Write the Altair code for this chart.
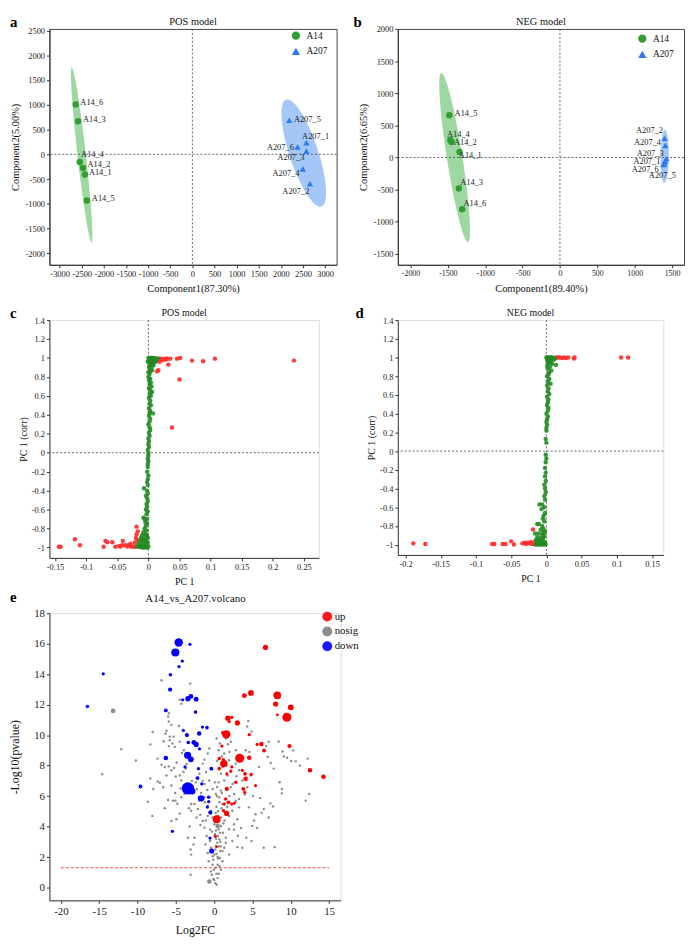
import altair as alt
import pandas as pd
import numpy as np

FONT = "Liberation Serif"
GREEN = "#2e9e2e"
BLUE = "#2b7bf0"
RED_L = "#ff3030"
GREEN_L = "#238b23"

# ---------------- panel a (POS PCA) ----------------
a_names = ["A14_1", "A14_2", "A14_3", "A14_4", "A14_5", "A14_6",
           "A207_1", "A207_2", "A207_3", "A207_4", "A207_5", "A207_6"]
a_group = ["A14", "A14", "A14", "A14", "A14", "A14",
           "A207", "A207", "A207", "A207", "A207", "A207"]
a_x = [-2428, -2473, -2584, -2547, -2384, -2636, 2577, 2658, 2577, 2495, 2190, 2376]
a_y = [-407, -274, 668, -155, -931, 1007, 235, -593, 64, -294, 686, 149]
a_lab_x = [-2339, -2369, -2473, -2517, -2272, -2532, 2480, 2643, 2532, 2421, 2294, 2294]
a_lab_y = [-367, -194, 708, 5, -891, 1053, 376, -739, -49, -387, 721, 137]
a_right = ["A207_2", "A207_3", "A207_4", "A207_6"]
a_ell_group = ["A14", "A207"]
a_ell_cx = [-2502, 2517]
a_ell_cy = [-15, 25]
a_ell_ux = [-223, -371]
a_ell_uy = [1765, 1082]
a_ell_w = [95, 340]
a_xticks = [-3000, -2500, -2000, -1500, -1000, -500, 0, 500, 1000, 1500, 2000, 2500, 3000]
a_yticks = [-2000, -1500, -1000, -500, 0, 500, 1000, 1500, 2000, 2500]

# ---------------- panel b (NEG PCA) ----------------
b_names = a_names
b_group = a_group
b_x = [-1344, -1450, -1353, -1468, -1481, -1309, 1405, 1400, 1425, 1410, 1395, 1385]
b_y = [85, 240, -481, 271, 657, -805, -60, 300, -20, 185, -90, -110]
b_lab_x = [-1353, -1419, -1335, -1512, -1410, -1291, 1344, 1379, 1388, 1353, 1551, 1322]
b_lab_y = [34, 240, -383, 363, 698, -707, -48, 430, 70, 235, -270, -177]
b_right = ["A207_1", "A207_2", "A207_3", "A207_4", "A207_5", "A207_6"]
b_ell_group = ["A14", "A207"]
b_ell_cx = [-1410, 1401]
b_ell_cy = [0, 18]
b_ell_ux = [-177, 5]
b_ell_uy = [1315, 412]
b_ell_w = [105, 55]
b_xticks = [-2000, -1500, -1000, -500, 0, 500, 1000, 1500]
b_yticks = [-1500, -1000, -500, 0, 500, 1000, 1500, 2000]

# ---------------- panel c (POS loadings) ----------------
c_red_x = [0.234, 0.107, 0.088, 0.070, 0.051, 0.046, 0.035, 0.032, 0.050, 0.038, 0.014, 0.016,
           0.017, 0.020, 0.023, 0.026, 0.029, 0.022, 0.018, 0.013, 0.011, 0.027, 0.031, 0.015,
           -0.144, -0.141, -0.118, -0.110, -0.072, -0.069, -0.066, -0.058, -0.053, -0.047, -0.041,
           -0.042, -0.037, -0.032, -0.028, -0.029, -0.025, -0.021, -0.019, -0.019, -0.020, -0.018,
           -0.022, -0.017, -0.034, -0.045]
c_red_y = [0.972, 0.993, 0.965, 0.972, 1.0, 0.993, 0.993, 0.93, 0.774, 0.266, 0.86, 0.87,
           0.993, 0.993, 0.99, 0.99, 0.995, 0.975, 0.96, 0.97, 0.995, 0.98, 0.99, 0.98,
           -0.993, -0.993, -0.913, -0.976, -0.993, -0.930, -0.944, -0.944, -0.993, -0.983, -0.930,
           -0.976, -0.976, -0.976, -0.99, -0.96, -0.993, -0.993, -0.78, -0.86, -0.90, -0.92,
           -0.95, -0.83, -0.99, -0.99]
c_green_x = [0.000, 0.002, 0.004, 0.006, 0.008, 0.010, 0.012, 0.003, 0.005, 0.007, 0.009, 0.001,
             0.004, 0.006, 0.002, 0.005, 0.003, 0.008, 0.001, 0.004, 0.002, 0.006, 0.003, 0.000,
             0.012, 0.011, 0.009, 0.013, -0.001, 0.015,
             0.002, 0.000, 0.003, 0.001, 0.004, 0.002, 0.005, 0.001, 0.003, 0.006, 0.002, 0.004,
             0.001, 0.003, 0.002, 0.004, 0.001, 0.003, 0.0075, 0.002, 0.001, 0.003, 0.002, 0.000,
             0.002, 0.003, 0.001, 0.002, 0.000, 0.001, 0.000, 0.001, -0.001, 0.000, 0.000, -0.001,
             0.000, -0.001, -0.001, -0.002, 0.000, -0.001, -0.002, -0.001, -0.007, -0.002, -0.001,
             -0.004, -0.002, -0.001, -0.003, -0.002, -0.004, -0.001, -0.003, -0.008, -0.006, -0.002,
             -0.005, -0.002, -0.004,
             -0.006, -0.003, -0.008, -0.004, -0.010, -0.002, -0.012, -0.007, -0.003, -0.014, -0.009,
             -0.005, -0.001, -0.016, -0.012, -0.008, -0.004, -0.018, -0.014, -0.010, -0.006, -0.002,
             0.000, -0.001, -0.011, -0.015, -0.007, -0.003, -0.005, -0.009]
c_green_y = [1.0, 1.0, 1.0, 1.0, 1.0, 0.995, 0.99, 0.99, 0.985, 0.98, 0.975, 0.975,
             0.965, 0.955, 0.95, 0.94, 0.93, 0.92, 0.91, 0.90, 0.885, 0.87, 0.86, 0.85,
             0.97, 0.96, 0.95, 0.985, 0.96, 0.995,
             0.83, 0.80, 0.78, 0.76, 0.74, 0.72, 0.70, 0.68, 0.66, 0.64, 0.62, 0.60,
             0.58, 0.55, 0.52, 0.50, 0.47, 0.44, 0.415, 0.42, 0.39, 0.36, 0.33, 0.30,
             0.27, 0.24, 0.21, 0.18, 0.15, 0.12, 0.09, 0.06, 0.03, 0.0, -0.03, -0.06,
             -0.09, -0.12, -0.15, -0.20, -0.24, -0.28, -0.31, -0.34, -0.375, -0.40, -0.43,
             -0.455, -0.48, -0.51, -0.54, -0.57, -0.60, -0.62, -0.65, -0.685, -0.70, -0.70,
             -0.73, -0.75, -0.77,
             -0.80, -0.82, -0.84, -0.86, -0.87, -0.88, -0.90, -0.91, -0.92, -0.93, -0.94,
             -0.95, -0.95, -0.96, -0.97, -0.975, -0.98, -0.99, -0.995, -1.0, -1.0, -1.0,
             -0.99, -0.90, -0.99, -0.985, -0.99, -0.995, -0.87, -0.92]
c_xticks = [-0.15, -0.1, -0.05, 0, 0.05, 0.1, 0.15, 0.2, 0.25]
c_yticks = [-1, -0.8, -0.6, -0.4, -0.2, 0, 0.2, 0.4, 0.6, 0.8, 1, 1.2, 1.4]

# ---------------- panel d (NEG loadings) ----------------
d_red_x = [-0.189, -0.172, -0.077, -0.074, -0.062, -0.058, -0.050, -0.046, -0.034, -0.031, -0.027,
           -0.024, -0.019, -0.021, -0.018, -0.016, -0.029, -0.022,
           0.106, 0.116, 0.040, 0.039, 0.031, 0.025, 0.019, 0.0165, 0.022, 0.028, 0.014]
d_red_y = [-0.986, -0.993, -0.993, -0.993, -0.993, -0.993, -0.965, -0.999, -0.986, -0.98, -0.98,
           -0.986, -0.838, -0.993, -0.993, -0.97, -0.993, -0.97,
           1.0, 1.0, 1.0, 0.99, 1.0, 1.0, 1.0, 1.0, 0.995, 0.995, 1.0]
d_green_x = [0.000, 0.002, 0.004, 0.006, 0.008, 0.010, 0.012, 0.003, 0.005, 0.007, 0.001, 0.004,
             0.006, 0.002, 0.0137, 0.003, 0.008, 0.001, 0.005, 0.002, 0.007, 0.004, 0.010, 0.011,
             0.003, 0.001, 0.004, 0.002, 0.006, 0.001, 0.003, 0.002, 0.004, 0.001, 0.003, 0.002,
             0.001, 0.003, 0.002, 0.000, 0.002, 0.001, 0.000, 0.001, 0.000, 0.000, -0.001, 0.000,
             -0.001, 0.000, -0.001, -0.002, -0.001, -0.002, -0.001, -0.003, -0.002, -0.001, -0.003,
             -0.002, -0.0099, -0.006, -0.007, -0.003, -0.002, -0.004, -0.005, -0.003, -0.0108,
             -0.013, -0.006, -0.004, -0.002,
             -0.008, -0.004, -0.011, -0.006, -0.016, -0.003, -0.013, -0.009, -0.005, -0.015, -0.011,
             -0.007, -0.002, -0.014, -0.010, -0.006, -0.003, -0.015, -0.012, -0.008, -0.004, -0.001,
             -0.013, -0.009, -0.005]
d_green_y = [1.0, 1.0, 1.0, 1.0, 1.0, 0.995, 0.99, 0.99, 0.985, 0.98, 0.975, 0.965,
             0.955, 0.95, 0.92, 0.94, 0.93, 0.91, 0.90, 0.88, 0.86, 0.84, 0.975, 0.985,
             0.82, 0.80, 0.77, 0.74, 0.72, 0.70, 0.67, 0.64, 0.61, 0.58, 0.55, 0.52,
             0.49, 0.46, 0.43, 0.40, 0.37, 0.34, 0.31, 0.28, 0.25, 0.22, 0.13, 0.09,
             -0.04, -0.08, -0.12, -0.18, -0.23, -0.27, -0.32, -0.36, -0.40, -0.44, -0.48,
             -0.52, -0.57, -0.57, -0.62, -0.60, -0.66, -0.69, -0.72, -0.75, -0.78,
             -0.78, -0.80, -0.83, -0.86,
             -0.84, -0.87, -0.88, -0.89, -0.88, -0.91, -0.92, -0.93, -0.94, -0.95, -0.96,
             -0.96, -0.97, -0.98, -0.985, -0.99, -0.99, -1.0, -1.0, -1.0, -1.0, -0.995,
             -0.97, -0.99, -0.92]
d_xticks = [-0.2, -0.15, -0.1, -0.05, 0, 0.05, 0.1, 0.15]

# ---------------- panel e (volcano) ----------------
down_x = [-4.63, -3.16, -5.07, -4.16, -4.59, -14.48, -5.71, -5.75, -3.04, -3.43, -4.11, -2.35,
          -16.55, -6.31, -2.43, -1.53, -0.93, -4.03, -1.96, -3.56, -3.38, -2.65, -2.35, -1.92,
          -3.47, -3.04, -6.31, -3.81, -2.05, -0.37, -2.18, -9.62, -3.43, -2.87, -1.62, -1.70,
          -0.71, -0.71, -0.89, -0.50, -5.45, -0.54, -0.33]
down_y = [16.08, 15.96, 15.42, 14.86, 14.49, 14.02, 13.96, 12.99, 12.54, 12.39, 12.32, 12.35,
          11.88, 11.62, 11.51, 10.53, 10.49, 10.31, 10.11, 10.00, 9.52, 9.52, 9.39, 9.10,
          8.68, 8.41, 8.50, 7.91, 7.80, 7.80, 7.18, 6.63, 6.51, 6.32, 6.80, 5.85,
          5.92, 5.63, 5.28, 4.92, 3.69, 3.25, 2.39]
down_vip = [2.6, 1.0, 2.5, 1.0, 1.0, 1.0, 1.1, 1.3, 1.5, 1.6, 1.0, 1.5,
            1.1, 1.2, 1.1, 1.0, 1.1, 1.0, 1.4, 1.3, 1.1, 1.5, 1.6, 1.0,
            2.2, 1.8, 1.4, 1.0, 1.0, 1.2, 1.2, 1.2, 3.8, 2.0, 1.0, 2.0,
            1.1, 1.0, 1.0, 1.3, 1.0, 1.0, 1.6]
up_x = [6.69, 3.94, 4.80, 8.24, 8.02, 10.0, 8.24, 9.49, 1.78, 2.30, 1.96, 3.03,
        1.57, 1.10, 4.58, 1.01, 5.61, 6.17, 6.51, 9.83, 3.33, 4.58, 1.22, 0.66,
        1.26, 2.30, 2.17, 1.65, 3.68, 4.03, 4.11, 4.84, 2.82, 5.40, 3.81, 3.98,
        12.50, 14.27, 1.65, 1.52, 1.87, 2.30, 1.31, 2.65, 1.62, 1.22, 0.32, 0.15, 0.32, 0.66]
up_y = [15.75, 12.59, 12.77, 12.61, 12.04, 11.82, 11.33, 11.17, 11.11, 11.17, 10.89, 10.80,
        10.05, 10.16, 10.03, 9.28, 9.39, 9.41, 8.99, 9.28, 8.48, 8.52, 8.39, 8.46,
        8.13, 7.91, 7.64, 7.46, 7.69, 7.46, 7.13, 7.42, 6.91, 6.69, 6.47, 6.25,
        7.69, 7.27, 6.47, 5.81, 5.59, 5.48, 5.48, 5.54, 4.86, 5.04, 4.48, 3.36, 2.67, 7.80]
up_vip = [1.6, 1.5, 1.8, 2.4, 1.6, 1.8, 0.9, 2.8, 1.6, 1.0, 1.0, 1.6,
          2.6, 1.0, 1.0, 1.0, 1.0, 1.4, 1.2, 1.3, 2.8, 1.4, 1.0, 1.1,
          2.3, 1.0, 1.0, 1.0, 1.0, 1.2, 1.4, 1.0, 1.1, 1.0, 1.2, 1.0,
          1.4, 1.4, 1.3, 1.0, 1.2, 1.0, 1.0, 1.0, 1.6, 1.0, 2.4, 1.0, 0.9, 1.1]
ns_x = [-6.87, -3.13, -4.50, -4.29, -5.92, -6.01, -5.92, -5.58, -8.03, -6.22, -6.35, -8.33,
        -5.79, -5.45, -5.15, -5.92, -12.12, -4.50, -4.20, -3.94, -10.22, -7.39, -6.87, -6.44,
        -5.92, -5.58, -5.24, -14.61, -8.33, -7.39, -7.09, -6.66, -6.22, -5.58, -5.02, -4.50,
        -4.29, -7.95, -8.68, -8.08, -6.44, -6.01, -5.37, -5.06, -5.58, -4.94, -4.50, -4.29,
        -3.86, -3.21, -3.00, -3.00, -3.21, -3.43, -3.08, -3.00, -3.08, -2.57, -2.70,
        4.45, 4.32, 4.88, 7.12, 8.41, 6.78, 8.93, 9.53, 10.05, 10.65, 7.38, 7.77,
        6.99, 12.20, 8.54, 8.84, 8.84, 6.01, 7.34, 12.42, 11.95, 7.68, 6.47, 7.12,
        4.97, 4.88, 3.68, 6.47, 7.89, 3.25, 5.40, 4.54, 4.19, 3.03,
        -0.63, -0.84, -1.27, -1.49, -1.06, -1.92, -0.63, -1.27, -2.26, -0.20, 0.23, 0.66,
        1.09, 0.88, 1.31, 1.74, 2.17, 0.88, 1.09, 1.95, 1.31, 0.58, 0.75, 0.32,
        1.52, 2.17, 2.82, 4.11, 2.82, 3.25, 3.68, 4.32, 4.75, 5.83, 2.17, 2.60,
        2.82, 3.25, 2.38, 1.95, 3.03, 2.60, 1.95, 1.52, 2.38, 1.31, 1.95, 1.09,
        0.88, 0.45, 0.66, 0.88, 0.58, 0.75, 0.49, 0.66, 0.40, 0.23, 0.15, 0.02,
        -0.11, -0.20, -0.03, -0.28, -0.11, 0.15, 0.32, -0.41, -0.71, -0.84, -1.14, -0.97,
        -1.27, -1.49, -1.83, -2.13, -2.57, -1.92, -1.27, -0.84, -0.41, -0.20, 0.02, 0.23,
        -0.28, -0.54, -0.41, -0.20, 0.45, 0.75, 1.09, 1.52, -0.84,
        0.5, 0.3, 0.7, 0.2, 0.9, 0.4, 1.2, 0.1, 0.6, 0.8, 0.3, 0.5, 0.2, 0.6, 0.0,
        0.4, 0.6, 1.0, 1.4, 1.7, 1.2, 2.0, 2.4, 2.9, 1.6, 0.4, 1.0,
        -4.9, -5.3, -4.0, -4.6, -5.8, -6.6, -3.6, -4.4, -5.1, -2.9, -3.7, -4.8,
        -2.4, -1.7, -1.2, -0.9, -2.0, -1.5, -2.8, -3.3, -1.1, -0.5, -1.8, -2.3,
        0.1, 0.35, 0.55, 0.8, 0.25, 0.7, 0.45, 0.95, 1.15, 0.3, 0.85, 1.35,
        2.6, 3.5, 4.0, 5.1, 5.6, 6.2, 3.1, 2.0, 1.8, 4.6, 5.2, 9.1, 10.3, 11.2]
ns_y = [13.60, 13.38, 12.32, 12.06, 11.44, 11.22, 10.89, 10.67, 10.20, 10.29, 10.11, 9.39,
        9.67, 9.45, 9.23, 9.28, 9.08, 9.56, 8.83, 9.01, 8.33, 8.46, 8.06, 7.91,
        7.95, 7.69, 7.84, 7.44, 7.16, 6.96, 6.87, 6.58, 7.35, 6.69, 7.29, 7.35,
        7.02, 6.47, 5.63, 4.70, 5.21, 5.74, 5.70, 5.70, 4.37, 4.48, 4.86, 5.92,
        6.14, 6.18, 5.48, 5.04, 4.00, 3.27, 2.50, 2.16, 0.84, 3.27, 2.83,
        10.93, 10.56, 10.23, 9.56, 9.58, 9.28, 8.92, 8.52, 8.30, 8.28, 8.17, 7.80,
        8.57, 8.46, 6.91, 6.47, 6.18, 5.87, 5.52, 6.14, 5.70, 5.32, 5.15, 4.59,
        4.04, 3.05, 2.61, 2.61, 2.65, 5.81, 4.81, 5.26, 3.27, 2.65,
        9.12, 8.79, 8.39, 8.13, 7.58, 7.46, 7.02, 6.80, 6.47, 6.47, 6.14, 5.92,
        5.48, 6.36, 7.02, 7.35, 7.58, 7.46, 7.91, 8.35, 8.79, 9.01, 9.45, 9.78,
        9.78, 9.56, 9.01, 9.01, 8.13, 7.69, 7.02, 6.58, 7.35, 7.91, 6.58, 6.14,
        5.70, 5.26, 5.04, 4.70, 4.48, 4.15, 3.82, 3.27, 3.05, 2.61, 2.16, 1.72,
        1.17, 0.62, 4.37, 4.04, 3.82, 3.60, 3.38, 3.16, 2.94, 2.72, 2.50, 2.16,
        1.83, 1.50, 1.17, 0.84, 0.57, 0.29, 0.18, 1.06, 1.72, 2.27, 2.83, 3.38,
        3.93, 4.37, 4.77, 5.15, 5.48, 5.70, 5.92, 5.37, 5.04, 4.59, 4.15, 3.75,
        3.67, 3.05, 2.61, 2.05, 1.50, 1.94, 2.39, 2.94, 4.70,
        5.0, 5.3, 5.6, 4.9, 4.6, 4.3, 4.2, 3.5, 2.7, 3.0, 2.2, 1.9, 1.3, 0.9, 0.5,
        6.6, 6.9, 6.2, 5.8, 5.3, 5.0, 6.0, 6.8, 7.3, 8.0, 8.3, 8.6,
        8.2, 9.9, 7.6, 10.6, 9.9, 9.6, 8.1, 6.5, 6.2, 7.0, 7.8, 5.5,
        6.9, 6.2, 5.6, 6.4, 5.9, 7.0, 6.6, 5.2, 4.4, 3.8, 4.1, 4.6,
        6.9, 6.0, 4.7, 2.4, 3.2, 1.4, 2.0, 5.2, 3.6, 0.9, 2.7, 4.4,
        3.8, 3.9, 6.1, 6.0, 3.9, 4.9, 3.4, 8.9, 9.4, 8.9, 4.4, 8.6, 9.0, 8.0]
nsb_x = [-13.19, -0.63, 0.45]
nsb_y = [11.59, 0.40, 4.04]
volc_classes = ["up", "nosig", "down"]
volc_colors = ["#ff0000", "#808080", "#0000ff"]
e_xticks = [-20, -15, -10, -5, 0, 5, 10, 15]
e_yticks = [0, 2, 4, 6, 8, 10, 12, 14, 16, 18]
p_threshold = [0.05]
e_line_from = [-20]
e_line_to = [15]


def axis(values, title, lab_fs, title_fs, title_pad, **kw):
    return alt.Axis(values=values, title=title, labelFont=FONT, titleFont=FONT,
                    labelFontSize=lab_fs, titleFontSize=title_fs, titleFontWeight="normal",
                    labelColor="#222", titleColor="#111", domainColor="#333", tickColor="#333",
                    tickSize=3, labelPadding=2, titlePadding=title_pad, grid=False,
                    labelOverlap=False, labelFlush=False, labelBound=False,
                    labelExpr="'' + datum.value", **kw)


def letter(ch, dx, dy):
    return alt.Chart(pd.DataFrame({"t": [ch]})).mark_text(
        align="left", baseline="alphabetic", font=FONT, fontSize=15, fontWeight="bold", color="#000"
    ).encode(x=alt.value(dx), y=alt.value(dy), text="t:N")


def head(text, fs, cx, dy):
    return alt.Chart(pd.DataFrame({"t": [text]})).mark_text(
        align="center", baseline="alphabetic", font=FONT, fontSize=fs, color="#111"
    ).encode(x=alt.value(cx), y=alt.value(dy), text="t:N")


def ellipse_df(groups, cx, cy, ux, uy, w):
    t = np.linspace(0, 2 * np.pi, 145)
    rows = []
    for g, a, b, c, d, e in zip(groups, cx, cy, ux, uy, w):
        for i, tt in enumerate(t):
            rows.append({"group": g, "i": i,
                         "x": a + c * np.cos(tt) + e * np.sin(tt),
                         "y": b + d * np.cos(tt)})
    return pd.DataFrame(rows)


def pca_panel(names, group, xs, ys, lx, ly, right, ell, xdom, ydom, xt, yt,
              xtitle, ytitle, ttl, ch, ch_dx, w, h, lab_fs, leg_x, leg_y):
    X = alt.X("x:Q", scale=alt.Scale(domain=xdom, nice=False, zero=False),
              axis=axis(xt, xtitle, lab_fs, 10.5, 6))
    Y = alt.Y("y:Q", scale=alt.Scale(domain=ydom, nice=False, zero=False),
              axis=axis(yt, ytitle, 8.5, 10.5, 5))
    pts = pd.DataFrame({"name": names, "group": group, "x": xs, "y": ys})
    labs = pd.DataFrame({"name": names, "x": lx, "y": ly})
    leg = alt.Legend(orient="none", legendX=leg_x, legendY=leg_y, title=None, symbolSize=70,
                     labelFont=FONT, labelFontSize=9.5, labelColor="#111",
                     rowPadding=5, symbolStrokeWidth=0, labelOffset=6, padding=0)
    layers = []
    for g, col in zip(["A14", "A207"], ["#3cb043", "#4a8ff0"]):
        layers.append(alt.Chart(ell).transform_filter(alt.datum.group == g).mark_line(
            fill=col, fillOpacity=0.5, strokeOpacity=0, strokeWidth=0
        ).encode(x=X, y=Y, order="i:Q"))
    layers.append(alt.Chart(pd.DataFrame({"x": [0]})).mark_rule(
        color="#555", strokeDash=[2, 2], strokeWidth=0.9).encode(x=X))
    layers.append(alt.Chart(pd.DataFrame({"y": [0]})).mark_rule(
        color="#555", strokeDash=[2, 2], strokeWidth=0.9).encode(y=Y))
    layers.append(alt.Chart(pts).mark_point(filled=True, size=42, opacity=1).encode(
        x=X, y=Y,
        color=alt.Color("group:N", scale=alt.Scale(domain=["A14", "A207"], range=[GREEN, BLUE]), legend=leg),
        shape=alt.Shape("group:N", scale=alt.Scale(domain=["A14", "A207"], range=["circle", "triangle-up"]), legend=leg)))
    layers.append(alt.Chart(labs).transform_filter(
        ~alt.FieldOneOfPredicate(field="name", oneOf=right)).mark_text(
        align="left", baseline="middle", font=FONT, fontSize=8.5, color="#222").encode(x=X, y=Y, text="name:N"))
    layers.append(alt.Chart(labs).transform_filter(
        alt.FieldOneOfPredicate(field="name", oneOf=right)).mark_text(
        align="right", baseline="middle", font=FONT, fontSize=8.5, color="#222").encode(x=X, y=Y, text="name:N"))
    layers.append(letter(ch, ch_dx, -2))
    layers.append(head(ttl, 10.5, w / 2, -4))
    return alt.layer(*layers).properties(
        width=w, height=h, view=alt.ViewBackground(stroke="#444", strokeWidth=1))


def load_panel(rx, ry, gx, gy, xdom, xt, ttl, ch, ch_dx, w, h):
    X = alt.X("x:Q", scale=alt.Scale(domain=xdom, nice=False, zero=False),
              axis=axis(xt, "PC 1", 8.5, 10, 5))
    Y = alt.Y("y:Q", scale=alt.Scale(domain=[-1.11, 1.4], nice=False, zero=False),
              axis=axis(c_yticks, "PC 1 (corr)", 8.5, 10, 3))
    red = pd.DataFrame({"x": rx, "y": ry})
    grn = pd.DataFrame({"x": gx, "y": gy})
    layers = [
        alt.Chart(pd.DataFrame({"x": [0]})).mark_rule(color="#555", strokeDash=[2, 2], strokeWidth=0.9).encode(x=X),
        alt.Chart(pd.DataFrame({"y": [0]})).mark_rule(color="#555", strokeDash=[2, 2], strokeWidth=0.9).encode(y=Y),
        alt.Chart(red).mark_circle(size=20, opacity=0.95, color=RED_L).encode(x=X, y=Y),
        alt.Chart(grn).mark_circle(size=20, opacity=0.9, color=GREEN_L).encode(x=X, y=Y),
        letter(ch, ch_dx, -2),
        head(ttl, 10, w / 2, -4),
    ]
    return alt.layer(*layers).properties(width=w, height=h)


ell_a = ellipse_df(a_ell_group, a_ell_cx, a_ell_cy, a_ell_ux, a_ell_uy, a_ell_w)
ell_b = ellipse_df(b_ell_group, b_ell_cx, b_ell_cy, b_ell_ux, b_ell_uy, b_ell_w)

pa = pca_panel(a_names, a_group, a_x, a_y, a_lab_x, a_lab_y, a_right, ell_a,
               [-3230, 3260], [-2230, 2530], a_xticks, a_yticks,
               "Component1(87.30%)", "Component2(5.00%)", "POS model", "a", -40, 291, 239, 8.5, 245, 2)
pb = pca_panel(b_names, b_group, b_x, b_y, b_lab_x, b_lab_y, b_right, ell_b,
               [-2170, 1660], [-1670, 2000], b_xticks, b_yticks,
               "Component1(89.40%)", "Component2(6.65%)", "NEG model", "b", -45, 290, 239, 8, 243, 5)

pc = load_panel(c_red_x, c_red_y, c_green_x, c_green_y, [-0.159, 0.274], c_xticks, "POS model", "c", -40, 273, 241)
pd_ = load_panel(d_red_x, d_red_y, d_green_x, d_green_y, [-0.211, 0.166], d_xticks, "NEG model", "d", -43, 269, 238)

# volcano
EX = alt.X("x:Q", scale=alt.Scale(domain=[-21.5, 16.5], nice=False, zero=False),
           axis=axis(e_xticks, "Log2FC", 11, 12, 9))
EY = alt.Y("y:Q", scale=alt.Scale(domain=[-0.84, 18], nice=False, zero=False),
           axis=axis(e_yticks, "-Log10(pvalue)", 11, 12, 12))
vcolor_scale = alt.Scale(domain=volc_classes, range=volc_colors)
vleg = alt.Legend(orient="none", legendX=276, legendY=-2, title=None, symbolType="circle",
                  symbolSize=100, symbolStrokeWidth=0, labelFont=FONT, labelFontSize=11,
                  labelColor="#111", rowPadding=3, labelOffset=2, padding=0)
ns_df = pd.DataFrame({"x": ns_x, "y": ns_y, "cls": ["nosig"] * len(ns_x)})
nsb_df = pd.DataFrame({"x": nsb_x, "y": nsb_y, "cls": ["nosig"] * len(nsb_x)})
sig_df = pd.concat([
    pd.DataFrame({"x": up_x, "y": up_y, "vip": up_vip, "cls": ["up"] * len(up_x)}),
    pd.DataFrame({"x": down_x, "y": down_y, "vip": down_vip, "cls": ["down"] * len(down_x)}),
], ignore_index=True)
thr_df = pd.DataFrame({"x": e_line_from, "x2": e_line_to, "y": [-np.log10(p) for p in p_threshold]})

pe = alt.layer(
    alt.Chart(ns_df).mark_circle(size=6, opacity=0.9).encode(
        x=EX, y=EY, color=alt.Color("cls:N", scale=vcolor_scale, legend=vleg)),
    alt.Chart(nsb_df).mark_circle(size=22, opacity=0.9).encode(
        x=EX, y=EY, color=alt.Color("cls:N", scale=vcolor_scale, legend=vleg)),
    alt.Chart(thr_df).mark_rule(color="#ff3333", strokeDash=[3, 2], strokeWidth=0.9).encode(
        x=EX, x2="x2:Q", y=EY),
    alt.Chart(sig_df).mark_circle(opacity=1).encode(
        x=EX, y=EY, color=alt.Color("cls:N", scale=vcolor_scale, legend=vleg),
        size=alt.Size("vip:Q", scale=alt.Scale(type="pow", exponent=2, domain=[0, 3.8], range=[0, 156]), legend=None)),
    letter("e", -40, -11),
    head("A14_vs_A207.volcano", 11, 148, -11),
).properties(width=295, height=291)

chart = alt.concat(pa, pb, pc, pd_, pe, columns=2, spacing={"row": 56, "column": 58},
                   bounds="flush").resolve_scale(
    color="independent", shape="independent", size="independent"
).resolve_legend(color="independent", shape="independent", size="independent").properties(
    padding=0
).configure_view(stroke=None).configure(font=FONT)

chart.save("out.html", embed_options={"renderer": "svg", "actions": False})
